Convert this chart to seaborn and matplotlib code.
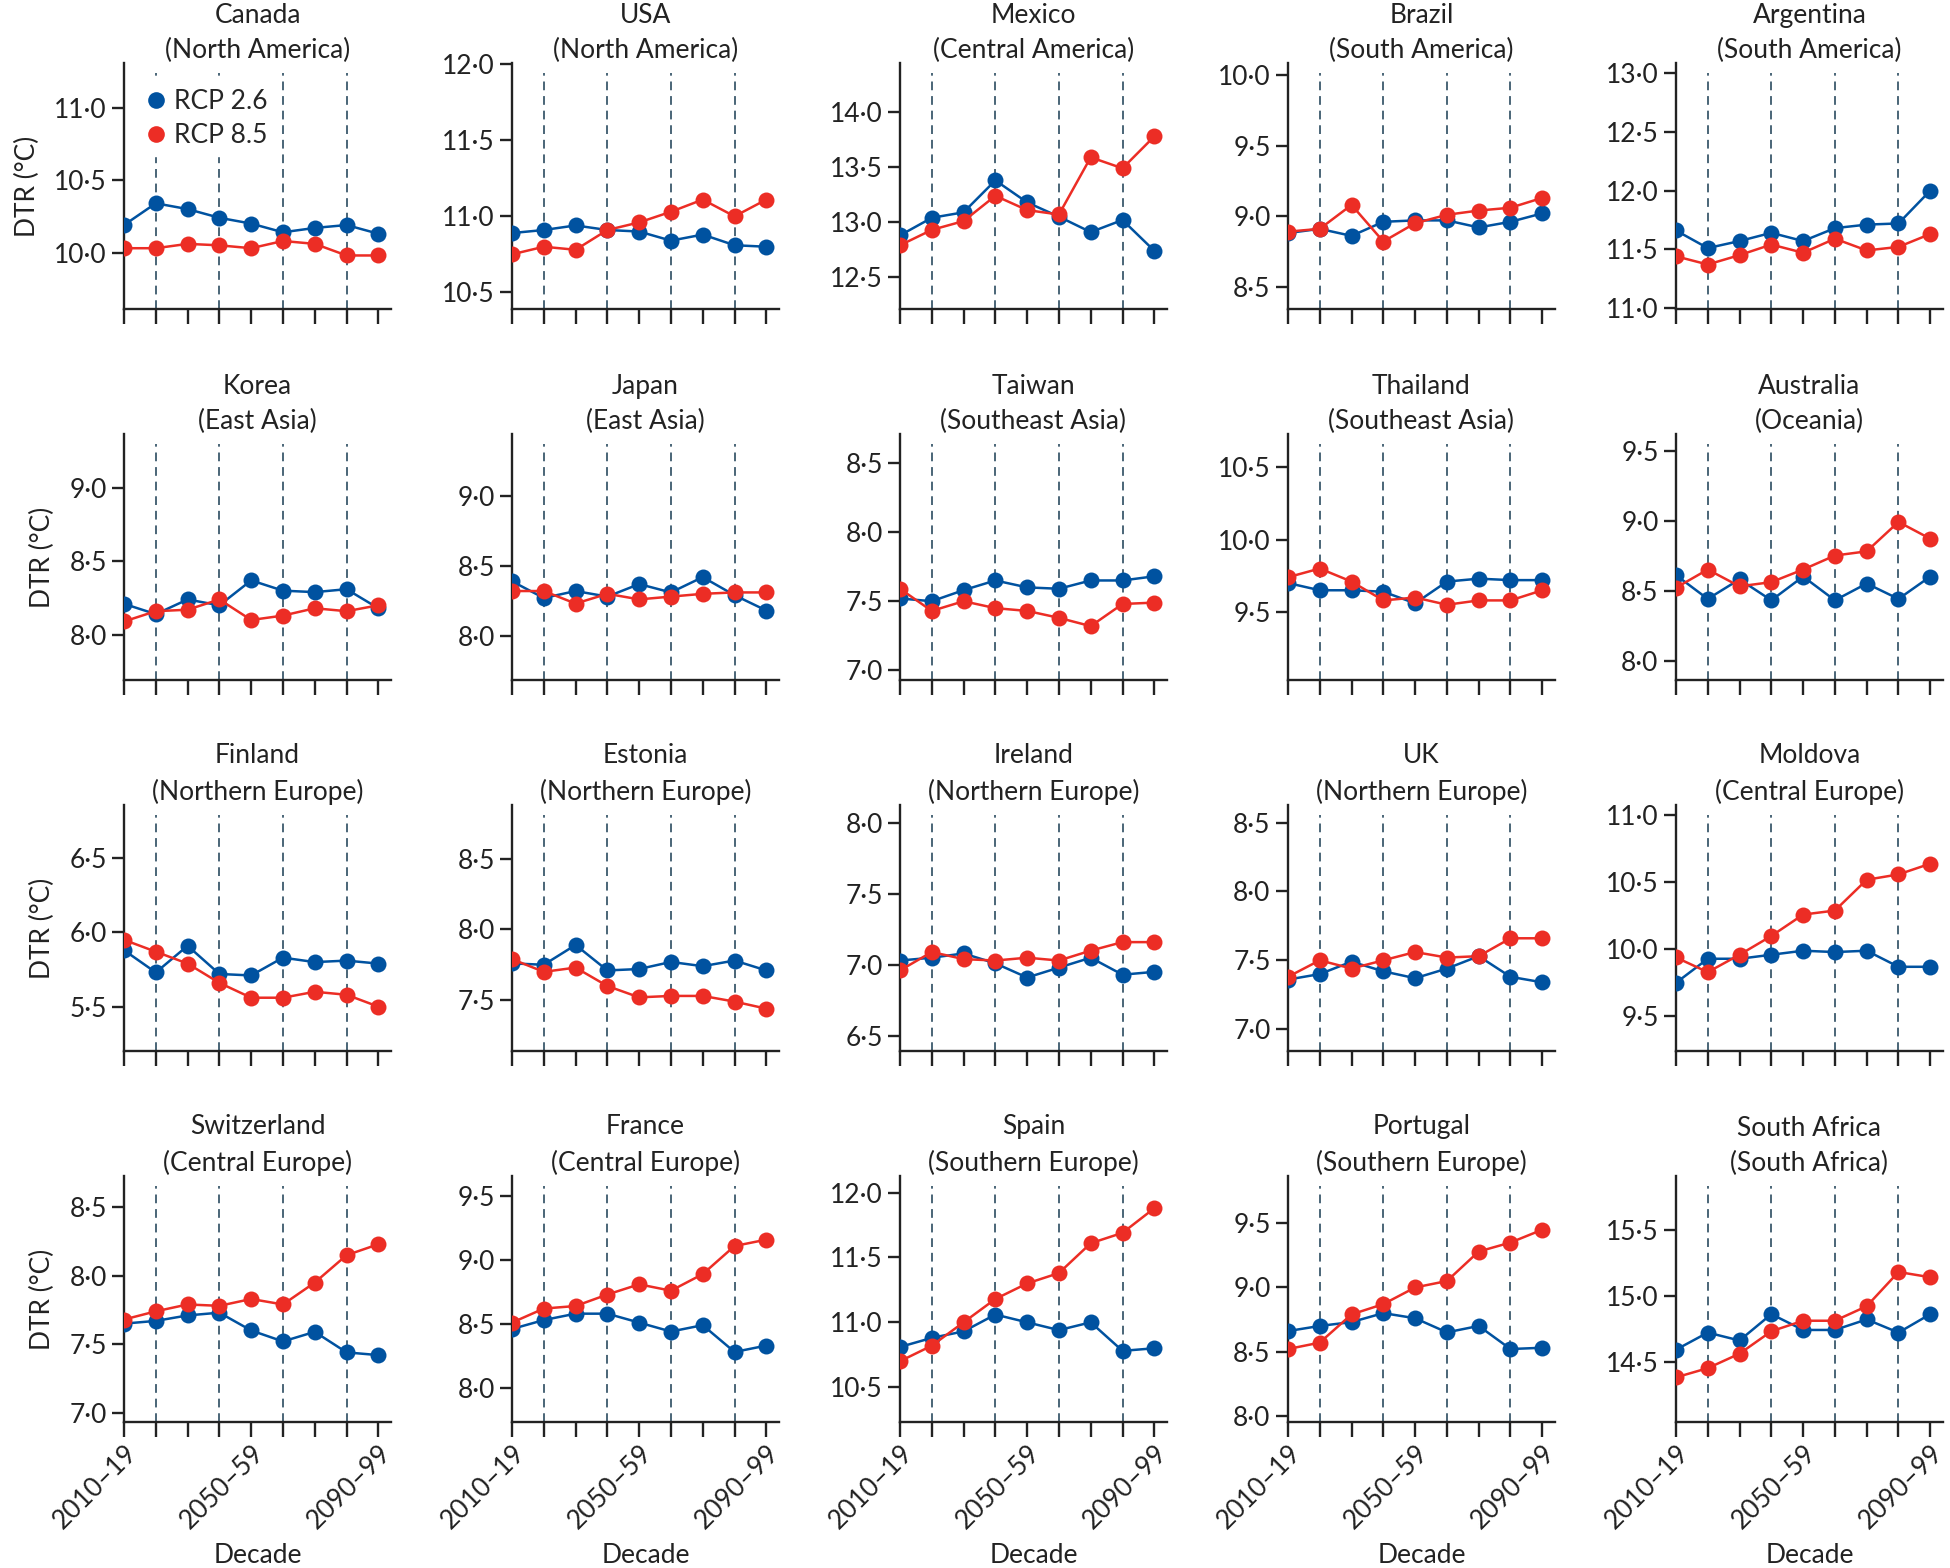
import numpy as np
import pandas as pd
import matplotlib
matplotlib.use("Agg")
import matplotlib.pyplot as plt
from matplotlib.lines import Line2D
from matplotlib.ticker import MultipleLocator, FuncFormatter
import seaborn as sns

# Decades on the x axis (only every 4th is labelled)
decades = ["2010–19", "2020–29", "2030–39", "2040–49", "2050–59",
           "2060–69", "2070–79", "2080–89", "2090–99"]
tick_labels = ["2010–19", "", "", "", "2050–59", "", "", "", "2090–99"]

countries = ["Canada", "USA", "Mexico", "Brazil", "Argentina",
             "Korea", "Japan", "Taiwan", "Thailand", "Australia",
             "Finland", "Estonia", "Ireland", "UK", "Moldova",
             "Switzerland", "France", "Spain", "Portugal", "South Africa"]
regions = ["North America", "North America", "Central America", "South America", "South America",
           "East Asia", "East Asia", "Southeast Asia", "Southeast Asia", "Oceania",
           "Northern Europe", "Northern Europe", "Northern Europe", "Northern Europe", "Central Europe",
           "Central Europe", "Central Europe", "Southern Europe", "Southern Europe", "South Africa"]

# DTR (°C) under RCP 2.6, one list per country
rcp26 = [
    [10.19, 10.34, 10.30, 10.24, 10.20, 10.14, 10.17, 10.19, 10.13],
    [10.89, 10.91, 10.94, 10.91, 10.90, 10.84, 10.88, 10.81, 10.80],
    [12.88, 13.04, 13.09, 13.38, 13.18, 13.05, 12.91, 13.02, 12.74],
    [8.88, 8.91, 8.86, 8.96, 8.97, 8.97, 8.92, 8.96, 9.02],
    [11.66, 11.51, 11.57, 11.64, 11.57, 11.68, 11.71, 11.72, 12.00],
    [8.21, 8.14, 8.24, 8.20, 8.37, 8.30, 8.29, 8.31, 8.18],
    [8.39, 8.27, 8.32, 8.28, 8.37, 8.31, 8.42, 8.29, 8.18],
    [7.52, 7.50, 7.58, 7.65, 7.60, 7.59, 7.65, 7.65, 7.68],
    [9.70, 9.65, 9.65, 9.64, 9.56, 9.71, 9.73, 9.72, 9.72],
    [8.61, 8.44, 8.58, 8.43, 8.60, 8.43, 8.55, 8.44, 8.60],
    [5.88, 5.73, 5.91, 5.72, 5.71, 5.83, 5.80, 5.81, 5.79],
    [7.76, 7.75, 7.89, 7.71, 7.72, 7.77, 7.74, 7.78, 7.71],
    [7.03, 7.05, 7.08, 7.01, 6.91, 6.98, 7.05, 6.93, 6.95],
    [7.36, 7.40, 7.49, 7.42, 7.37, 7.44, 7.53, 7.38, 7.34],
    [9.75, 9.93, 9.93, 9.96, 9.99, 9.98, 9.99, 9.87, 9.87],
    [7.65, 7.67, 7.71, 7.73, 7.60, 7.52, 7.59, 7.44, 7.42],
    [8.46, 8.53, 8.58, 8.58, 8.51, 8.44, 8.49, 8.28, 8.33],
    [10.81, 10.88, 10.93, 11.06, 11.00, 10.94, 11.00, 10.78, 10.80],
    [8.66, 8.70, 8.73, 8.80, 8.76, 8.65, 8.70, 8.52, 8.53],
    [14.59, 14.72, 14.66, 14.86, 14.74, 14.74, 14.82, 14.72, 14.86],
]

# DTR (°C) under RCP 8.5, one list per country
rcp85 = [
    [10.03, 10.03, 10.06, 10.05, 10.03, 10.08, 10.06, 9.98, 9.98],
    [10.75, 10.80, 10.78, 10.91, 10.96, 11.03, 11.11, 11.00, 11.11],
    [12.79, 12.93, 13.01, 13.24, 13.11, 13.07, 13.59, 13.49, 13.78],
    [8.89, 8.91, 9.08, 8.82, 8.95, 9.01, 9.04, 9.06, 9.13],
    [11.44, 11.37, 11.45, 11.54, 11.47, 11.59, 11.49, 11.52, 11.63],
    [8.09, 8.16, 8.17, 8.24, 8.10, 8.13, 8.18, 8.16, 8.20],
    [8.32, 8.32, 8.23, 8.30, 8.26, 8.28, 8.30, 8.31, 8.31],
    [7.59, 7.43, 7.50, 7.45, 7.43, 7.38, 7.32, 7.48, 7.49],
    [9.74, 9.80, 9.71, 9.58, 9.60, 9.55, 9.58, 9.58, 9.65],
    [8.52, 8.65, 8.53, 8.56, 8.65, 8.75, 8.78, 8.99, 8.87],
    [5.95, 5.87, 5.79, 5.66, 5.56, 5.56, 5.60, 5.58, 5.50],
    [7.79, 7.70, 7.73, 7.60, 7.52, 7.53, 7.53, 7.49, 7.44],
    [6.96, 7.09, 7.04, 7.03, 7.05, 7.03, 7.10, 7.16, 7.16],
    [7.38, 7.50, 7.44, 7.50, 7.56, 7.52, 7.53, 7.66, 7.66],
    [9.94, 9.83, 9.96, 10.10, 10.26, 10.29, 10.52, 10.56, 10.64],
    [7.68, 7.74, 7.79, 7.78, 7.83, 7.79, 7.95, 8.15, 8.23],
    [8.51, 8.62, 8.64, 8.73, 8.81, 8.76, 8.89, 9.11, 9.16],
    [10.70, 10.82, 11.00, 11.18, 11.30, 11.38, 11.61, 11.69, 11.88],
    [8.52, 8.57, 8.79, 8.87, 9.00, 9.05, 9.28, 9.35, 9.45],
    [14.38, 14.45, 14.56, 14.73, 14.81, 14.81, 14.92, 15.18, 15.14],
]

# y-axis range of each panel
y_limits = [
    (9.61, 11.31), (10.39, 12.01), (12.21, 14.45), (8.34, 10.09), (10.99, 13.09),
    (7.69, 9.37), (7.68, 9.45), (6.93, 8.71), (9.03, 10.73), (7.86, 9.62),
    (5.20, 6.86), (7.14, 8.88), (6.39, 8.13), (6.84, 8.63), (9.24, 11.08),
    (6.93, 8.73), (7.73, 9.66), (10.23, 12.13), (7.95, 9.87), (14.04, 15.91),
]

BLUE = "#0052a0"
RED = "#ec2d25"
DASH = "#4a6577"
INK = "#222222"
FS = 19

sns.set_theme(style="ticks")
plt.rcParams["font.family"] = ["Lato", "DejaVu Sans"]
plt.rcParams["font.size"] = FS

fig, axes = plt.subplots(4, 5, figsize=(19.5, 15.68), dpi=100)
fig.subplots_adjust(left=0.0636, right=0.9964, bottom=0.093, top=0.96,
                    wspace=0.453, hspace=0.506)

x = np.arange(len(decades))
fmt = FuncFormatter(lambda v, p: f"{v:.1f}".replace(".", "·"))

for i, ax in enumerate(axes.flat):
    df = pd.DataFrame({"x": np.concatenate([x, x]),
                       "dtr": rcp26[i] + rcp85[i],
                       "scenario": ["RCP 2.6"] * 9 + ["RCP 8.5"] * 9})

    # dashed guides every other decade
    for xv in [1, 3, 5, 7]:
        ax.axvline(xv, ymin=0, ymax=0.96, color=DASH, lw=1.4,
                   ls=(0, (4.5, 3)), zorder=1)

    sns.lineplot(data=df, x="x", y="dtr", hue="scenario",
                 palette={"RCP 2.6": BLUE, "RCP 8.5": RED},
                 marker="o", markersize=11.5, markeredgewidth=0,
                 linewidth=1.8, legend=False, ax=ax, zorder=3)

    ax.set_xlim(0, 8.4)
    ax.set_ylim(*y_limits[i])
    ax.yaxis.set_major_locator(MultipleLocator(0.5))
    ax.yaxis.set_major_formatter(fmt)
    ax.set_xticks(x)
    sns.despine(ax=ax)
    for sp in ["left", "bottom"]:
        ax.spines[sp].set_linewidth(1.7)
        ax.spines[sp].set_color(INK)
    ax.tick_params(axis="both", direction="out", length=9, width=1.7,
                   color=INK, labelsize=FS, labelcolor=INK)
    ax.tick_params(axis="x", length=11, pad=2)

    ax.set_title(f"{countries[i]}\n({regions[i]})", fontsize=FS,
                 linespacing=1.5, pad=1, color=INK)

    row, col = divmod(i, 5)
    if row == 3:
        ax.set_xticklabels(tick_labels, rotation=45, ha="right",
                           rotation_mode="anchor")
        ax.set_xlabel("Decade", fontsize=FS, labelpad=7, color=INK)
    else:
        ax.set_xticklabels([])
        ax.set_xlabel("")
    if col == 0:
        ax.set_ylabel("DTR (°C)", fontsize=FS, labelpad=10, color=INK)
    else:
        ax.set_ylabel("")

# legend in the first panel, markers only
handles = [Line2D([], [], marker="o", ls="none", color=BLUE, markersize=12,
                  markeredgewidth=0, label="RCP 2.6"),
           Line2D([], [], marker="o", ls="none", color=RED, markersize=12,
                  markeredgewidth=0, label="RCP 8.5")]
leg = axes[0, 0].legend(handles=handles, loc="upper left",
                        bbox_to_anchor=(-0.02, 0.98), frameon=True,
                        fontsize=FS, handletextpad=0.1, borderpad=0.3,
                        labelspacing=0.35, handlelength=1.2)
leg.get_frame().set_facecolor("white")
leg.get_frame().set_edgecolor("white")
leg.get_frame().set_alpha(1)
leg.set_zorder(5)

plt.savefig("out.png", dpi=100)
plt.close()
